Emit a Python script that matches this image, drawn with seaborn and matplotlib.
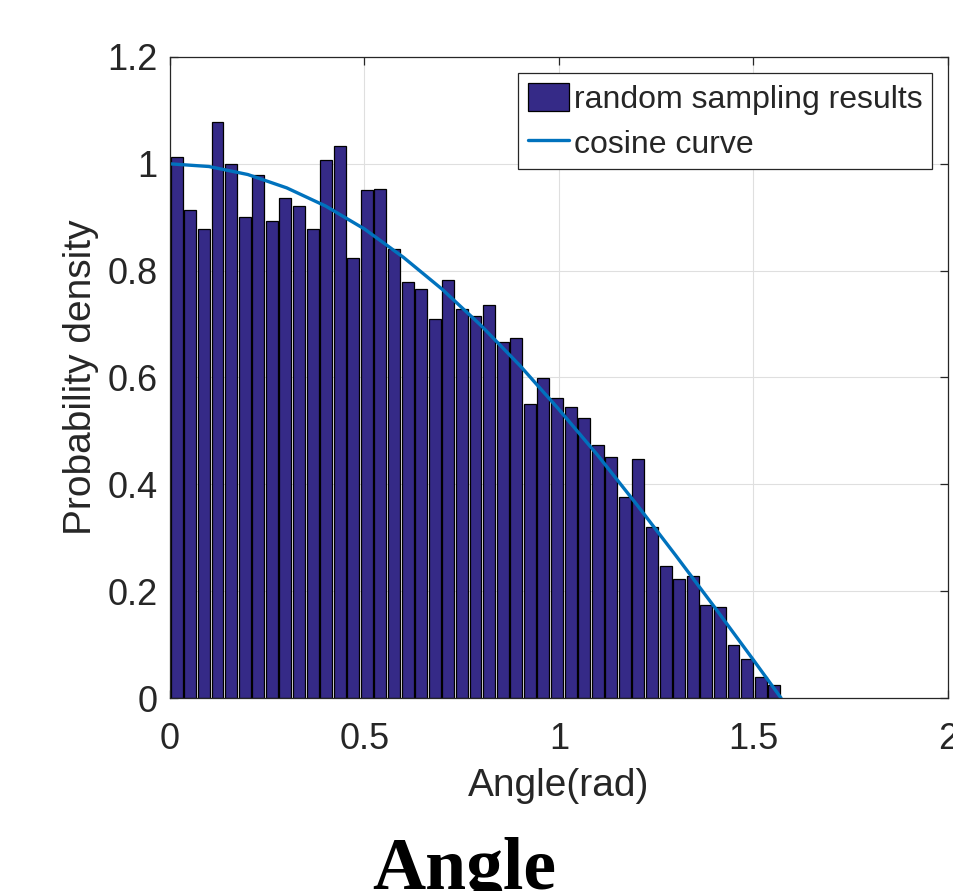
import numpy as np
import pandas as pd
import seaborn as sns
import matplotlib.pyplot as plt

# Histogram bar heights (45 bins over 0..pi/2)
density = [
    1.012, 0.913, 0.878, 1.079, 0.999, 0.901, 0.979, 0.893, 0.936, 0.921,
    0.878, 1.007, 1.033, 0.823, 0.951, 0.953, 0.841, 0.778, 0.766, 0.709,
    0.783, 0.729, 0.715, 0.735, 0.666, 0.674, 0.551, 0.599, 0.562, 0.545,
    0.524, 0.473, 0.452, 0.376, 0.447, 0.320, 0.248, 0.222, 0.229, 0.174,
    0.171, 0.099, 0.073, 0.039, 0.024,
]

# Cosine curve points
curve_x = [0.0, 0.1, 0.2, 0.3, 0.4, 0.5, 0.6, 0.7, 0.8, 0.9, 1.0,
           1.1, 1.2, 1.3, 1.4, 1.5, 1.5708]
curve_y = [1.0, 0.995, 0.980, 0.955, 0.921, 0.878, 0.825, 0.765, 0.697,
           0.622, 0.540, 0.454, 0.362, 0.267, 0.170, 0.071, 0.0]

xticks = [0, 0.5, 1, 1.5, 2]
xtick_labels = ['0', '0.5', '1', '1.5', '2']
yticks = [0, 0.2, 0.4, 0.6, 0.8, 1.0, 1.2]
ytick_labels = ['0', '0.2', '0.4', '0.6', '0.8', '1', '1.2']

sns.set_style("ticks")
plt.rcParams['font.family'] = ['Liberation Sans', 'DejaVu Sans']

edges = np.linspace(0, np.pi / 2, len(density) + 1)
centers = (edges[:-1] + edges[1:]) / 2
df = pd.DataFrame({'angle': centers, 'density': density})
curve = pd.DataFrame({'x': curve_x, 'y': curve_y})

fig = plt.figure(figsize=(9.54, 8.91), dpi=100)
ax = fig.add_axes([170 / 954, 1 - 698 / 891, (948 - 170) / 954, (698 - 57) / 891])

sns.histplot(data=df, x='angle', weights='density', bins=len(density),
             binrange=(0, np.pi / 2), shrink=0.88, color='#352A87',
             edgecolor='black', linewidth=0.9, alpha=1, ax=ax)
sns.lineplot(data=curve, x='x', y='y', color='#0072BD', linewidth=2.4,
             ax=ax)

ax.set_xlim(0, 2)
ax.set_ylim(0, 1.2)
ax.set_xticks(xticks)
ax.set_xticklabels(xtick_labels)
ax.set_yticks(yticks)
ax.set_yticklabels(ytick_labels)
ax.grid(True, color='#dfdfdf', linewidth=0.8)
ax.set_axisbelow(True)

for s in ax.spines.values():
    s.set_visible(True)
    s.set_color('#262626')
    s.set_linewidth(0.9)
ax.tick_params(direction='in', length=6, width=0.9, colors='#262626',
               labelsize=26, top=True, right=True)
ax.tick_params(axis='x', pad=17)
ax.tick_params(axis='y', pad=9)

ax.set_xlabel('Angle(rad)', fontsize=28, color='#262626', labelpad=8)
ax.set_ylabel('Probability density', fontsize=28, color='#262626', labelpad=6)

leg = ax.legend(handles=[ax.patches[0], ax.lines[0]],
                labels=['random sampling results', 'cosine curve'],
                loc='upper right', fontsize=23, fancybox=False,
                framealpha=1, edgecolor='#262626', handlelength=1.3,
                handleheight=1.0, handletextpad=0.15, labelspacing=0.4,
                borderpad=0.3, borderaxespad=0.5)
leg.get_frame().set_linewidth(0.9)

fig.text(464 / 954, 2 / 891, 'Angle', ha='center', va='baseline',
         color='black', fontsize=53, fontweight='bold',
         family=['Liberation Serif', 'DejaVu Serif'])

fig.savefig('out.png', dpi=100)
